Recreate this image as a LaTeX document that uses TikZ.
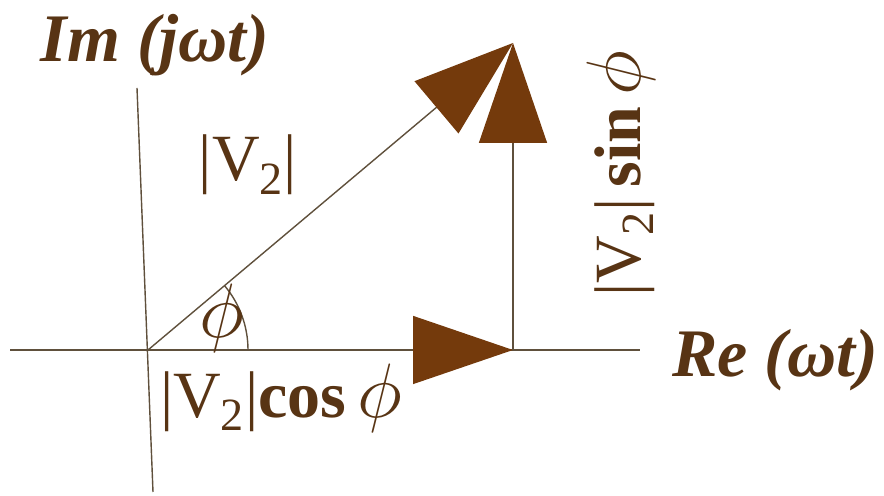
\documentclass[tikz,border=0pt]{standalone}
\usepackage{graphicx}
\usepackage{fontspec}
\setmainfont{Liberation Serif}
\usetikzlibrary{arrows.meta}
\definecolor{phasorbrown}{RGB}{116,58,12}
\definecolor{labelbrown}{RGB}{88,52,20}
\definecolor{axisgray}{RGB}{95,80,60}
\newcommand\phasorphi{\scalebox{1.55}{$\phi$}}

\begin{document}
\begin{tikzpicture}[x=0.5pt, y=0.5pt,
  axisline/.style={draw=axisgray, line width=0.7pt},
  phasor/.style={axisline, -{Triangle[length=50pt,width=34pt,color=phasorbrown]}},
  lbl/.style={text=labelbrown, inner sep=0pt, font=\fontsize{33}{36}\selectfont},
  axislbl/.style={lbl, font=\fontsize{34}{38}\selectfont\bfseries\itshape}]
 \useasboundingbox (0,0) rectangle (884,496);
 % points of the phasor triangle
 \coordinate (O) at (148,146);
 \coordinate (F) at (513,146);
 \coordinate (P) at (513,453);
 % axes
 \coordinate (xl) at (10,146); \coordinate (xr) at (640,146);
 \coordinate (yt) at (137,408); \coordinate (yb) at (153,4);
 \draw[axisline] (xl) -- (xr);
 \draw[axisline] (yt) -- (yb);
 \node[axislbl] (imlbl) at (155,451) {Im (jωt)};
 \node[axislbl] (relbl) at (775,136) {Re (ωt)};
 % phasor and its components
 \draw[phasor] (O) -- (P);
 \draw[phasor] (O) -- (F);
 \draw[phasor] (F) -- (P);
 \draw[axisline] (O) ++(100,0) arc[start angle=0, end angle=40, radius=100];
 \node[lbl] (phi) at (222,178) {\phasorphi};
 \node[lbl] (mag) at (248,331) {|V\textsubscript{2}|};
 \node[lbl] (cosl) at (281,98) {|V\textsubscript{2}|\textbf{cos}\,\phasorphi};
 \node[lbl, rotate=90] (sinl) at (621,322) {|V\textsubscript{2}|\,\textbf{sin}\,\phasorphi};
\end{tikzpicture}
\end{document}
